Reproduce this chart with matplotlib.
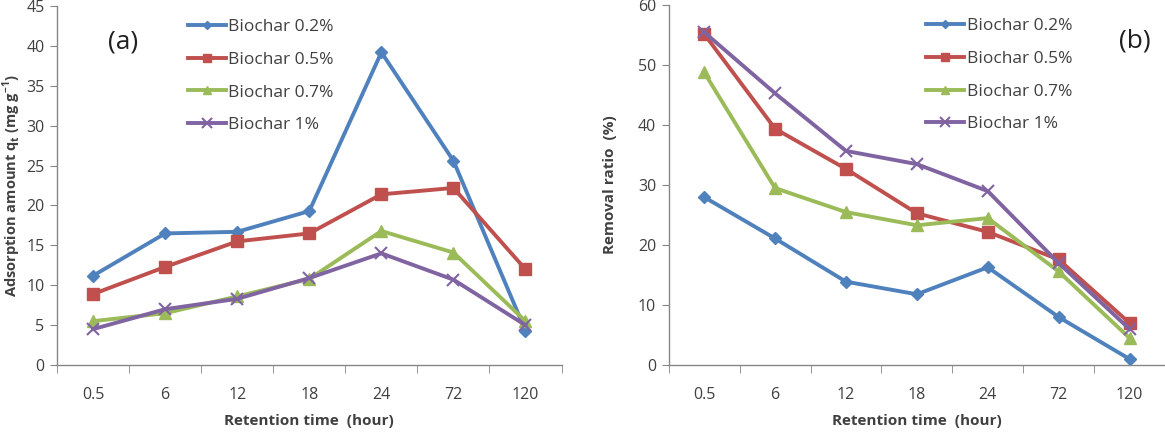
import matplotlib
matplotlib.use("Agg")
import matplotlib.pyplot as plt
import numpy as np

categories = ["0.5", "6", "12", "18", "24", "72", "120"]
series_names = ["Biochar 0.2%", "Biochar 0.5%", "Biochar 0.7%", "Biochar 1%"]

adsorption_02 = [11.2, 16.5, 16.7, 19.3, 39.2, 25.6, 4.3]
adsorption_05 = [8.9, 12.3, 15.5, 16.5, 21.4, 22.2, 12.0]
adsorption_07 = [5.5, 6.5, 8.6, 10.8, 16.8, 14.1, 5.5]
adsorption_1 = [4.5, 7.0, 8.3, 10.9, 14.0, 10.7, 5.0]

removal_02 = [28.0, 21.1, 13.9, 11.8, 16.3, 8.0, 1.0]
removal_05 = [55.2, 39.4, 32.7, 25.3, 22.2, 17.6, 7.0]
removal_07 = [48.8, 29.5, 25.5, 23.3, 24.5, 15.6, 4.5]
removal_1 = [55.5, 45.3, 35.7, 33.5, 29.0, 17.0, 6.0]

colors = ["#4F81BD", "#C0504D", "#9BBB59", "#8064A2"]
markers = ["D", "s", "^", "x"]
msizes = [6, 8, 8, 9]

plt.rcParams['font.family'] = ['Open Sans', 'DejaVu Sans']

fig = plt.figure(figsize=(11.65, 4.32), dpi=100)
axA = fig.add_axes([0.049, 0.155, 0.433, 0.831])
axB = fig.add_axes([0.574, 0.155, 0.426, 0.833])

tick_col = "#404040"
spine_col = "#868686"

def style(ax, ymax, ystep):
    x = np.arange(len(categories))
    ax.set_xlim(-0.5, len(categories) - 0.5)
    ax.set_ylim(0, ymax)
    ax.set_yticks(np.arange(0, ymax + 0.1, ystep))
    ax.set_xticks(x)
    ax.set_xticklabels(categories)
    ax.set_xticks(np.arange(-0.5, len(categories)), minor=True)
    ax.tick_params(axis='x', which='major', length=0, pad=16, labelsize=11.5, colors=tick_col)
    ax.tick_params(axis='x', which='minor', length=6, color=spine_col, direction='out')
    ax.tick_params(axis='y', length=5, color=spine_col, labelsize=11.5, labelcolor=tick_col, pad=4)
    for s in ['top', 'right']:
        ax.spines[s].set_visible(False)
    for s in ['left', 'bottom']:
        ax.spines[s].set_color(spine_col)
        ax.spines[s].set_linewidth(1.0)
    ax.set_xlabel("Retention time  (hour)", fontsize=11, fontweight='bold', color=tick_col, labelpad=8)

def draw(ax, data):
    x = np.arange(len(categories))
    for vals, name, c, m, ms in zip(data, series_names, colors, markers, msizes):
        ax.plot(x, vals, color=c, lw=2.8, marker=m, markersize=ms, markerfacecolor=c,
                markeredgecolor=c, markeredgewidth=1.5 if m == 'x' else 1, label=name)

def legend(ax, x0):
    leg = ax.legend(loc='upper left', bbox_to_anchor=(x0, 0.983), frameon=False, fontsize=12.5,
                    handlelength=2.2, handletextpad=0.15, labelspacing=0.95, markerscale=0.75,
                    borderaxespad=0.0)
    for t in leg.get_texts():
        t.set_color(tick_col)

draw(axA, [adsorption_02, adsorption_05, adsorption_07, adsorption_1])
style(axA, 45, 5)
axA.set_ylabel("Adsorption amount q$_\\mathregular{t}$ (mg g$^{\\mathregular{-1}}$)", fontsize=10.5,
               fontweight='bold', color=tick_col)
axA.yaxis.set_label_coords(-0.068, 0.5)
axA.text(0.13, 0.9, "(a)", transform=axA.transAxes, fontsize=19, color="#202020",
         ha='center', va='center')
legend(axA, 0.245)

draw(axB, [removal_02, removal_05, removal_07, removal_1])
style(axB, 60, 10)
axB.set_ylabel("Removal ratio  (%)", fontsize=11, fontweight='bold', color=tick_col)
axB.yaxis.set_label_coords(-0.105, 0.5)
axB.text(0.94, 0.9, "(b)", transform=axB.transAxes, fontsize=19, color="#202020",
         ha='center', va='center')
legend(axB, 0.505)

fig.savefig("out.png", dpi=100)
